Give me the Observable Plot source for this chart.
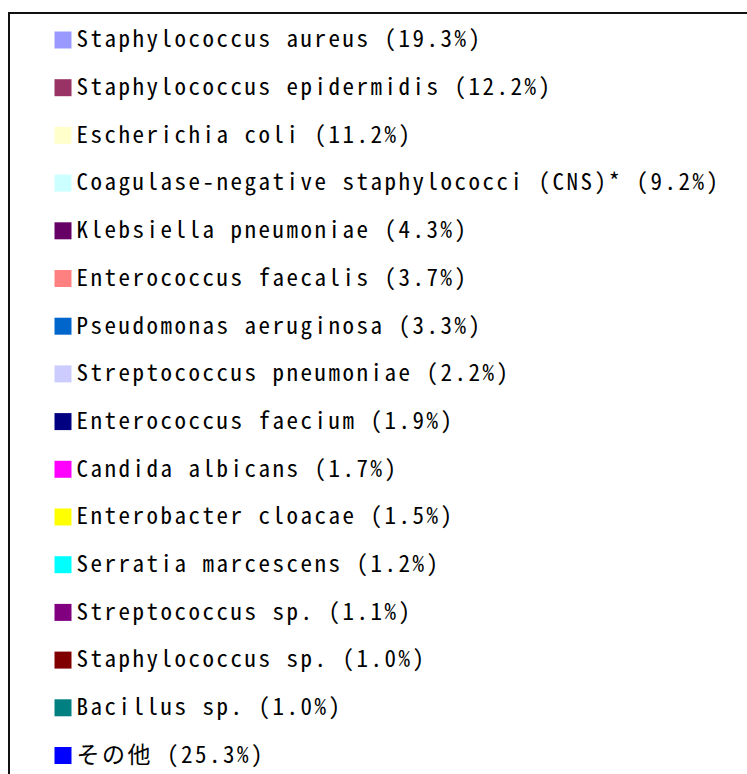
<!DOCTYPE html>
<html>
<head>
<meta charset="utf-8">
<script src="https://cdn.jsdelivr.net/npm/d3@7"></script>
<script src="https://cdn.jsdelivr.net/npm/@observablehq/plot@0.6"></script>
<style>
  html, body { margin: 0; padding: 0; background: #fff; }
  #wrap { position: relative; width: 747px; height: 774px; overflow: hidden; }
  #box { position: absolute; left: 8px; top: 12px; width: 800px; height: 800px;
         border-left: 2px solid #111; border-top: 2px solid #111; box-sizing: border-box; }
  #chart { position: absolute; left: 0; top: 0; }
</style>
</head>
<body>
<div id="wrap"><div id="box"></div><div id="chart"></div></div>
<script>
const organisms = [
  "Staphylococcus aureus",
  "Staphylococcus epidermidis",
  "Escherichia coli",
  "Coagulase-negative staphylococci (CNS)*",
  "Klebsiella pneumoniae",
  "Enterococcus faecalis",
  "Pseudomonas aeruginosa",
  "Streptococcus pneumoniae",
  "Enterococcus faecium",
  "Candida albicans",
  "Enterobacter cloacae",
  "Serratia marcescens",
  "Streptococcus sp.",
  "Staphylococcus sp.",
  "Bacillus sp.",
  "その他"
];
const shares = [19.3, 12.2, 11.2, 9.2, 4.3, 3.7, 3.3, 2.2, 1.9, 1.7, 1.5, 1.2, 1.1, 1.0, 1.0, 25.3];
const swatchColors = [
  "#9999FF", "#993366", "#FFFFCC", "#CCFFFF", "#660066", "#FF8080", "#0066CC", "#CCCCFF",
  "#000080", "#FF00FF", "#FFFF00", "#00FFFF", "#800080", "#800000", "#008080", "#0000FF"
];

const rows = organisms.map((name, i) => ({
  name,
  share: shares[i],
  color: swatchColors[i],
  label: `${name} (${shares[i].toFixed(1)}%)`
}));

const chart = Plot.plot({
  width: 747,
  height: 774,
  marginTop: 39.5,
  marginBottom: 19,
  marginLeft: 0,
  marginRight: 0,
  style: { background: "transparent", overflow: "visible" },
  y: { type: "point", domain: organisms, axis: null, padding: 0, round: false },
  x: { axis: null },
  marks: [
    Plot.dot(rows, {
      y: "name",
      frameAnchor: "left",
      dx: 62.5,
      symbol: "square",
      r: 17 / Math.sqrt(Math.PI),
      fill: "color",
      stroke: "none"
    }),
    Plot.text(rows, {
      y: "name",
      text: "label",
      frameAnchor: "left",
      dx: 76,
      textAnchor: "start",
      lineAnchor: "middle",
      fill: "#000",
      fontSize: 23,
      fontFamily: "'Noto Sans Mono CJK JP', 'DejaVu Sans Mono', monospace"
    })
  ]
});
chart.querySelectorAll("text").forEach(t => t.style.letterSpacing = "2.5px");
document.getElementById("chart").appendChild(chart);
</script>
</body>
</html>
